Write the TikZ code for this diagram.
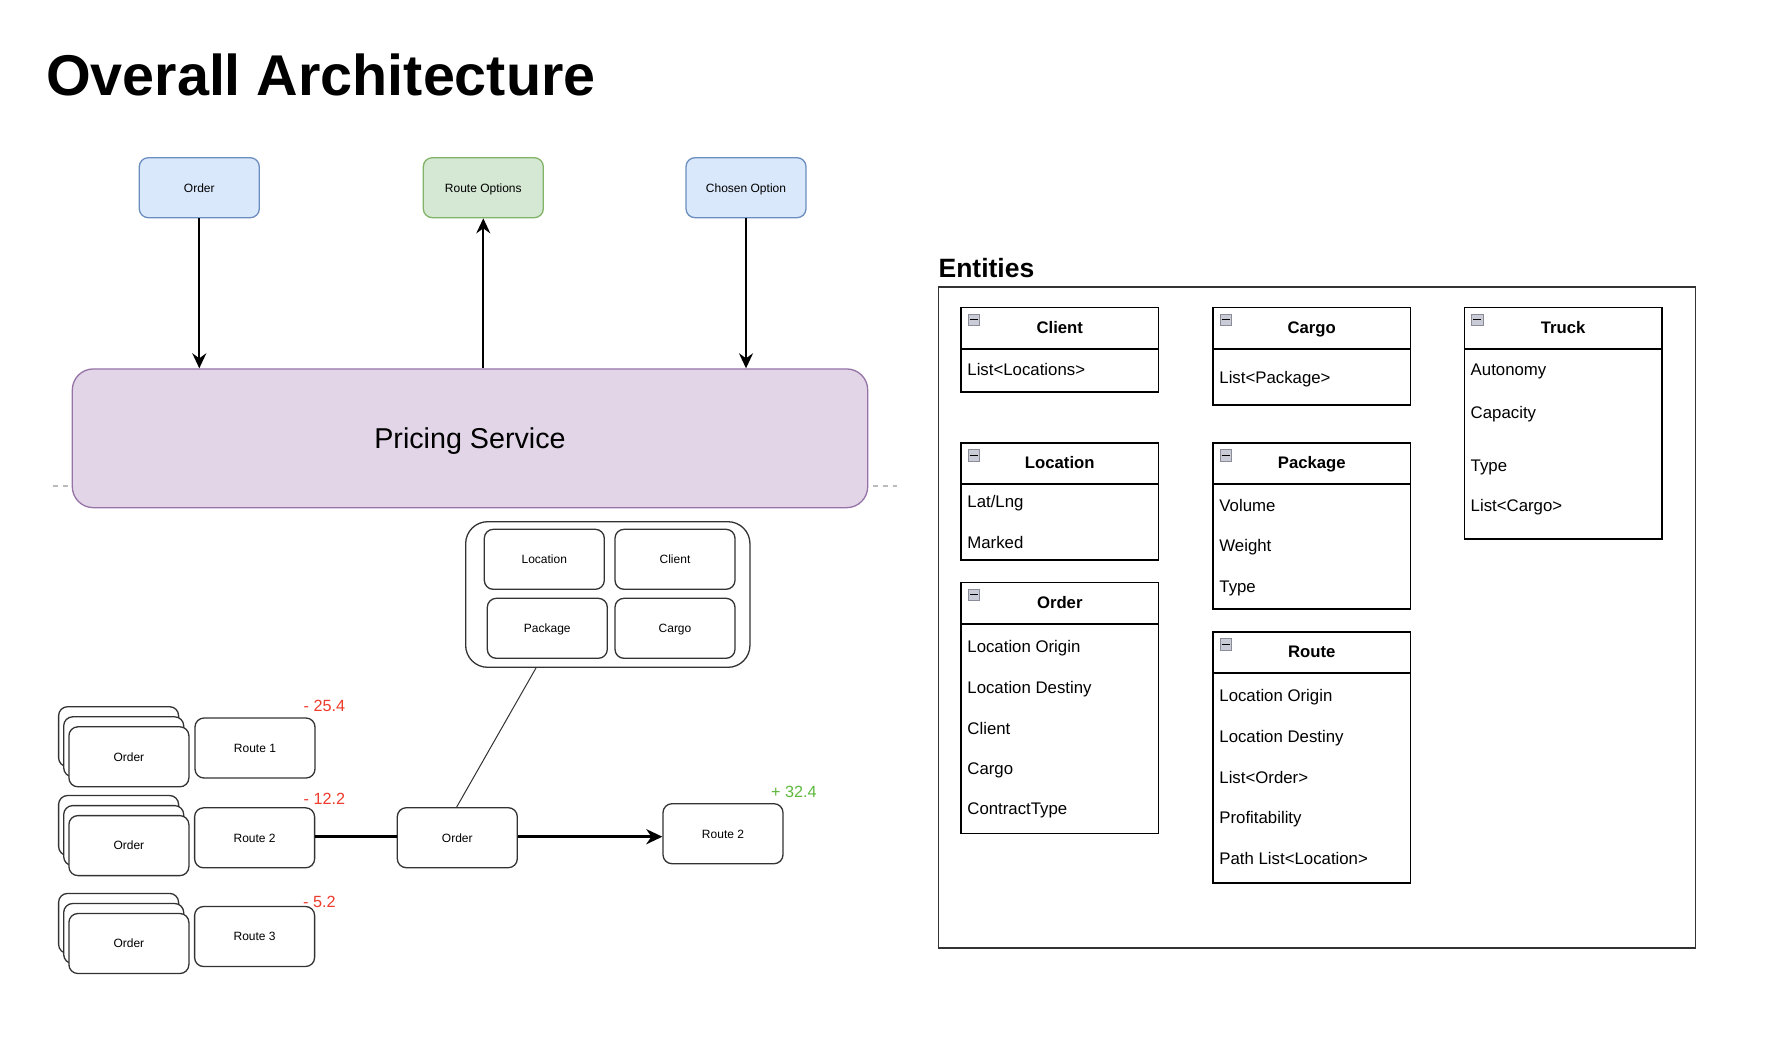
\documentclass[tikz,border=0pt]{standalone}
\usepackage{fontspec}
\setmainfont{Liberation Sans}
\usetikzlibrary{arrows.meta,calc}
\definecolor{bluefill}{HTML}{DAE8FC}
\definecolor{bluedraw}{HTML}{6C8EBF}
\definecolor{greenfill}{HTML}{D5E8D4}
\definecolor{greendraw}{HTML}{82B366}
\definecolor{purplefill}{HTML}{E1D5E7}
\definecolor{purpledraw}{HTML}{9673A6}
\definecolor{boxdraw}{HTML}{333333}
\definecolor{negred}{HTML}{EE3B2C}
\definecolor{posgreen}{HTML}{5DB83C}
\definecolor{minusfill}{HTML}{C9CBD6}
\definecolor{minusdraw}{HTML}{8A8C98}
\definecolor{dashgray}{HTML}{BBBBBB}
\tikzset{
  rbox/.style={draw=boxdraw, line width=1.3pt, fill=white, rounded corners=9pt,
    minimum width=120pt, minimum height=60pt, inner sep=0pt,
    font=\fontsize{12}{14}\selectfont, text height=8.6pt, text depth=0pt},
  bluebox/.style={rbox, fill=bluefill, draw=bluedraw},
  greenbox/.style={rbox, fill=greenfill, draw=greendraw},
  arr/.style={line width=2pt, -{Stealth[length=15pt,width=14pt,inset=5pt]}},
  thickarr/.style={line width=3pt, -{Stealth[length=16pt,width=15pt,inset=5pt]}},
  classbox/.style={draw=black, line width=1.8pt, minimum width=197.3pt, inner sep=0pt},
  classline/.style={draw=black, line width=1.8pt},
  classtitle/.style={inner sep=0pt, font=\bfseries\fontsize{16.7}{19}\selectfont},
  classitem/.style={inner sep=0pt, anchor=base west, font=\fontsize{16.8}{19}\selectfont},
  minusicon/.style={draw=minusdraw, fill=minusfill, line width=0.8pt, minimum size=11.5pt, inner sep=0pt},
  valneg/.style={inner sep=0pt, anchor=base west, text=negred, font=\fontsize{16.2}{19}\selectfont},
  valpos/.style={inner sep=0pt, anchor=base west, text=posgreen, font=\fontsize{16.2}{19}\selectfont},
  dashline/.style={draw=dashgray, line width=1.2pt, dash pattern=on 5pt off 5pt},
}
\newcommand\umlclass[5]{%
  \node[classbox, minimum height=#4, anchor=north west] (#1) at (#2,#3) {};
  \draw[classline] ($(#1.north west)+(0,42.3)$) -- ($(#1.north east)+(0,42.3)$);
  \node[classtitle, anchor=base] (#1-t) at ($(#1.north)+(0,27)$) {#5};
  \node[minusicon, anchor=north west] (#1-m) at ($(#1.north west)+(7.5,7.2)$) {};
  \draw[line width=1.1pt] ($(#1-m.west)+(2,0)$) -- ($(#1-m.east)+(-2,0)$);
}
\newcommand\umlitem[4]{\node[classitem] (#1) at (#2,#3) {#4};}
\begin{document}
\begin{tikzpicture}[x=1pt,y=-1pt]
\fill[white] (0,0) rectangle (1766,1042);
\useasboundingbox (0,0) rectangle (1766,1042);

% title
\node[inner sep=0pt, anchor=base west, font=\bfseries\fontsize{57.5}{64}\selectfont] (title) at (45.8,95) {Overall Architecture};

% top boxes
\node[bluebox] (order) at (199.3,187.7) {Order};
\node[greenbox] (routeopts) at (483.3,187.7) {Route Options};
\node[bluebox] (chosen) at (746,187.7) {Chosen Option};

% dashed line behind pricing service
\coordinate (dashL) at (52.7,486);
\coordinate (dashR) at (897,486);
\draw[dashline] (dashL) -- (dashR);

% pricing service
\node[draw=purpledraw, fill=purplefill, line width=1.3pt, rounded corners=21pt,
  minimum width=795.4pt, minimum height=138.7pt, inner sep=0pt,
  font=\fontsize{28.7}{34}\selectfont, text height=20pt, text depth=0pt] (pricing) at (470,438.3) {Pricing Service};

\draw[arr] (order.south) -- (order.south |- pricing.north);
\draw[arr] (routeopts.south |- pricing.north) -- (routeopts.south);
\draw[arr] (chosen.south) -- (chosen.south |- pricing.north);

% entity container
\node[draw=boxdraw, line width=1.3pt, rounded corners=22pt, minimum width=284.3pt, minimum height=145.6pt, inner sep=0pt] (container) at (607.8,594.5) {};
\node[rbox] (cLocation) at (544.3,559.3) {Location};
\node[rbox] (cClient) at (675,559.3) {Client};
\node[rbox] (cPackage) at (547.3,628.3) {Package};
\node[rbox] (cCargo) at (675,628.3) {Cargo};

% order stacks
\foreach \n/\y in {1/736.7, 2/825.5, 3/923.4} {
  \node[rbox] (stack\n-back) at (118.6,\y) {};
  \node[rbox] (stack\n-mid) at (123.7,\y+10.1) {};
  \node[rbox] (stack\n-front) at (128.9,\y+20.1) {Order};
}

% routes
\node[rbox] (route1) at (255,748) {Route 1};
\node[rbox] (route2l) at (254.6,837.8) {Route 2};
\node[rbox] (route3) at (254.6,936.5) {Route 3};
\node[rbox] (midorder) at (457.3,837.7) {Order};
\node[rbox] (route2r) at (723,833.7) {Route 2};

\coordinate (arrowrow) at (0,836.7);
\draw[line width=3pt] (route2l.east |- arrowrow) -- (midorder.west |- arrowrow);
\draw[thickarr] (midorder.east |- arrowrow) -- (route2r.west |- arrowrow);
\draw[line width=1pt, draw=boxdraw] ($(container.south west)+(71,0)$) -- ($(midorder.north west)+(60,0)$);

% values
\node[valneg] (v1) at (303.5,711.7) {- 25.4};
\node[valneg] (v2) at (303.5,804.5) {- 12.2};
\node[valneg] (v3) at (303,907.5) {- 5.2};
\node[valpos] (v4) at (771,797.7) {+ 32.4};

% entities
\node[inner sep=0pt, anchor=base west, font=\bfseries\fontsize{26.5}{30}\selectfont] (entities) at (938.4,277.8) {Entities};
\node[draw=boxdraw, line width=1.6pt, anchor=north west, minimum width=756.9pt, minimum height=660.9pt, inner sep=0pt] (entbox) at (937.6,286.4) {};

\umlclass{clsClient}{960.2}{306.5}{84.5}{Client}
\umlclass{clsCargo}{1212.2}{306.5}{97.6}{Cargo}
\umlclass{clsTruck}{1463.5}{306.5}{231.3}{Truck}
\umlclass{clsLocation}{960.2}{441.9}{117.1}{Location}
\umlclass{clsPackage}{1212.2}{441.9}{166.2}{Package}
\umlclass{clsOrder}{960.2}{581.5}{251.1}{Order}
\umlclass{clsRoute}{1212.2}{630.8}{251.2}{Route}

\umlitem{iClient1}{967.2}{375.9}{List<Locations>}
\umlitem{iCargo1}{1219.2}{383.1}{List<Package>}
\umlitem{iTruck1}{1470.5}{375.9}{Autonomy}
\umlitem{iTruck2}{1470.5}{418}{Capacity}
\umlitem{iTruck3}{1470.5}{471.1}{Type}
\umlitem{iTruck4}{1470.5}{511.7}{List<Cargo>}
\umlitem{iLoc1}{967.2}{507.9}{Lat/Lng}
\umlitem{iLoc2}{967.2}{548.1}{Marked}
\umlitem{iPkg1}{1219.2}{511.3}{Volume}
\umlitem{iPkg2}{1219.2}{551.9}{Weight}
\umlitem{iPkg3}{1219.2}{592.6}{Type}
\umlitem{iOrd1}{967.2}{652.3}{Location Origin}
\umlitem{iOrd2}{967.2}{693}{Location Destiny}
\umlitem{iOrd3}{967.2}{734.1}{Client}
\umlitem{iOrd4}{967.2}{774.3}{Cargo}
\umlitem{iOrd5}{967.2}{814.9}{ContractType}
\umlitem{iRte1}{1219.2}{701.6}{Location Origin}
\umlitem{iRte2}{1219.2}{742.7}{Location Destiny}
\umlitem{iRte3}{1219.2}{783.4}{List<Order>}
\umlitem{iRte4}{1219.2}{823.6}{Profitability}
\umlitem{iRte5}{1219.2}{864.2}{Path List<Location>}
\end{tikzpicture}
\end{document}
